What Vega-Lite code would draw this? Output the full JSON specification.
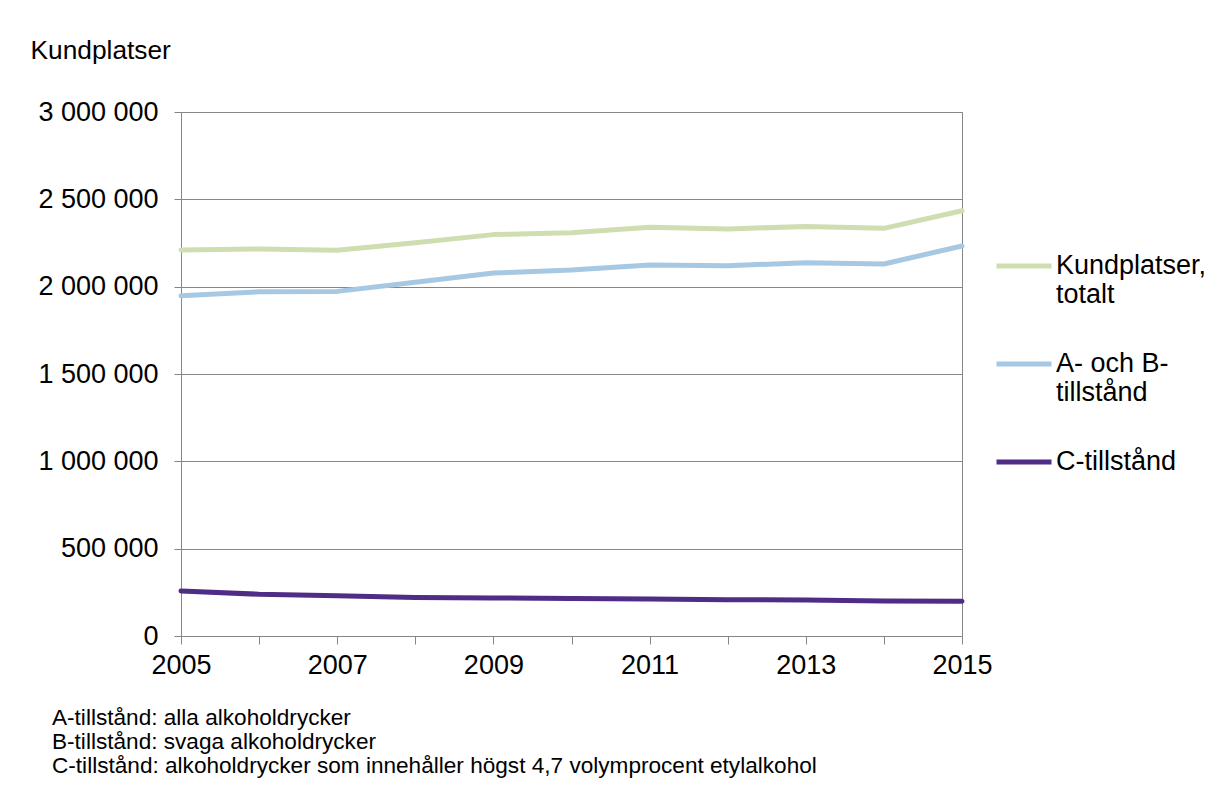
{
  "$schema": "https://vega.github.io/schema/vega-lite/v6.json",
  "width": 781,
  "height": 524,
  "autosize": {"type": "none"},
  "padding": {"left": 181, "top": 112, "right": 251, "bottom": 149},
  "background": "white",
  "title": {
    "text": [
      "A-tillstånd: alla alkoholdrycker",
      "B-tillstånd: svaga alkoholdrycker",
      "C-tillstånd: alkoholdrycker som innehåller högst 4,7 volymprocent etylalkohol"
    ],
    "orient": "bottom",
    "anchor": "start",
    "frame": "group",
    "dx": -129,
    "offset": 29,
    "font": "Liberation Sans",
    "fontSize": 22.6,
    "fontWeight": "normal",
    "lineHeight": 24,
    "color": "black"
  },
  "data": {
    "values": [
      {"year": 2005, "series": "Kundplatser, totalt", "value": 2210000},
      {"year": 2006, "series": "Kundplatser, totalt", "value": 2216000},
      {"year": 2007, "series": "Kundplatser, totalt", "value": 2209000},
      {"year": 2008, "series": "Kundplatser, totalt", "value": 2252000},
      {"year": 2009, "series": "Kundplatser, totalt", "value": 2298000},
      {"year": 2010, "series": "Kundplatser, totalt", "value": 2309000},
      {"year": 2011, "series": "Kundplatser, totalt", "value": 2340000},
      {"year": 2012, "series": "Kundplatser, totalt", "value": 2330000},
      {"year": 2013, "series": "Kundplatser, totalt", "value": 2345000},
      {"year": 2014, "series": "Kundplatser, totalt", "value": 2334000},
      {"year": 2015, "series": "Kundplatser, totalt", "value": 2435000},
      {"year": 2005, "series": "A- och B-tillstånd", "value": 1948000},
      {"year": 2006, "series": "A- och B-tillstånd", "value": 1971000},
      {"year": 2007, "series": "A- och B-tillstånd", "value": 1973000},
      {"year": 2008, "series": "A- och B-tillstånd", "value": 2025000},
      {"year": 2009, "series": "A- och B-tillstånd", "value": 2078000},
      {"year": 2010, "series": "A- och B-tillstånd", "value": 2095000},
      {"year": 2011, "series": "A- och B-tillstånd", "value": 2124000},
      {"year": 2012, "series": "A- och B-tillstånd", "value": 2120000},
      {"year": 2013, "series": "A- och B-tillstånd", "value": 2137000},
      {"year": 2014, "series": "A- och B-tillstånd", "value": 2130000},
      {"year": 2015, "series": "A- och B-tillstånd", "value": 2233000},
      {"year": 2005, "series": "C-tillstånd", "value": 258000},
      {"year": 2006, "series": "C-tillstånd", "value": 239000},
      {"year": 2007, "series": "C-tillstånd", "value": 231000},
      {"year": 2008, "series": "C-tillstånd", "value": 221000},
      {"year": 2009, "series": "C-tillstånd", "value": 218000},
      {"year": 2010, "series": "C-tillstånd", "value": 214000},
      {"year": 2011, "series": "C-tillstånd", "value": 212000},
      {"year": 2012, "series": "C-tillstånd", "value": 208000},
      {"year": 2013, "series": "C-tillstånd", "value": 206000},
      {"year": 2014, "series": "C-tillstånd", "value": 200000},
      {"year": 2015, "series": "C-tillstånd", "value": 199000}
    ]
  },
  "mark": {"type": "line", "strokeWidth": 5, "strokeCap": "round", "strokeJoin": "round"},
  "encoding": {
    "x": {
      "field": "year",
      "type": "quantitative",
      "scale": {"domain": [2005, 2015], "nice": false, "zero": false},
      "axis": {
        "title": null,
        "values": [2005, 2006, 2007, 2008, 2009, 2010, 2011, 2012, 2013, 2014, 2015],
        "labelExpr": "datum.value % 2 == 1 ? format(datum.value, 'd') : ''",
        "grid": false,
        "tickSize": 8,
        "labelPadding": 8,
        "labelFlush": false
      }
    },
    "y": {
      "field": "value",
      "type": "quantitative",
      "scale": {"domain": [0, 3000000], "nice": false},
      "axis": {
        "title": "Kundplatser",
        "titleAngle": 0,
        "titleAlign": "left",
        "titleBaseline": "alphabetic",
        "titleX": -151,
        "titleY": -54,
        "titleFontSize": 26.3,
        "values": [0, 500000, 1000000, 1500000, 2000000, 2500000, 3000000],
        "labelExpr": "replace(replace(format(datum.value, ','), ',', ' '), ',', ' ')",
        "grid": true,
        "tickSize": 7,
        "labelPadding": 16
      }
    },
    "color": {
      "field": "series",
      "type": "nominal",
      "scale": {
        "domain": ["Kundplatser, totalt", "A- och B-tillstånd", "C-tillstånd"],
        "range": ["#cfdeb1", "#a6c8e3", "#4f2c85"]
      },
      "legend": {
        "title": null,
        "orient": "none",
        "legendX": 813,
        "legendY": 124,
        "symbolType": "stroke",
        "symbolSize": 3025,
        "symbolStrokeWidth": 5,
        "labelOffset": 2,
        "rowPadding": 26,
        "labelLimit": 300,
        "labelExpr": "datum.label == 'Kundplatser, totalt' ? ['Kundplatser,', 'totalt'] : datum.label == 'A- och B-tillstånd' ? ['A- och B-', 'tillstånd'] : datum.label"
      }
    }
  },
  "config": {
    "font": "Liberation Sans",
    "view": {"stroke": "#868686", "strokeWidth": 1},
    "axis": {
      "domainColor": "#868686",
      "tickColor": "#868686",
      "gridColor": "#868686",
      "gridOpacity": 1,
      "labelFont": "Liberation Sans",
      "labelFontSize": 27,
      "labelColor": "black",
      "titleFont": "Liberation Sans",
      "titleFontSize": 27,
      "titleFontWeight": "normal",
      "titleColor": "black"
    },
    "legend": {
      "labelFont": "Liberation Sans",
      "labelFontSize": 27,
      "labelColor": "black",
      "labelLineHeight": 30
    }
  }
}
